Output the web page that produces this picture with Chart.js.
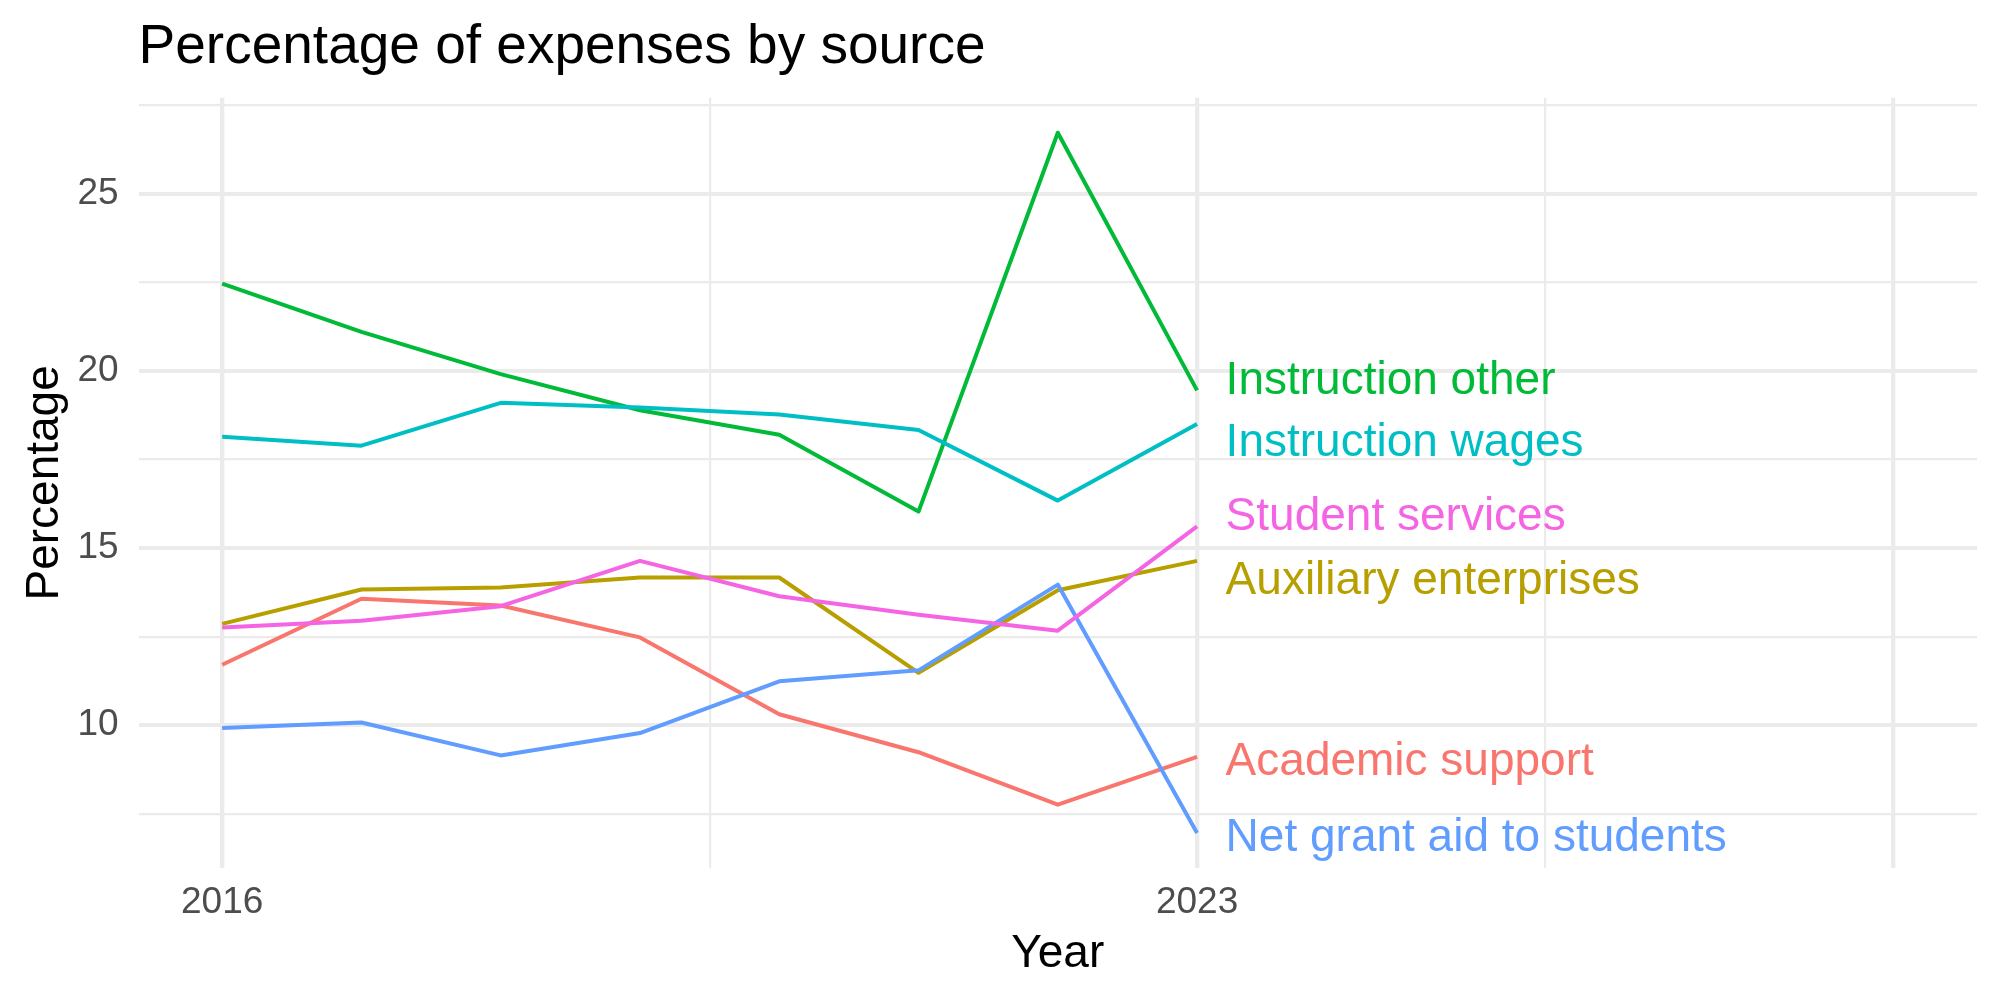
<!DOCTYPE html>
<html><head><meta charset="utf-8">
<script src="https://cdn.jsdelivr.net/npm/chart.js@4.4.1/dist/chart.umd.min.js"></script>
<style>html,body{margin:0;padding:0;background:#fff;} #wrap{width:2000px;height:1000px;}</style>
</head><body><div id="wrap"><canvas id="c" width="2000" height="1000"></canvas></div>
<script>
// ---- data ----
const years = [2016, 2017, 2018, 2019, 2020, 2021, 2022, 2023];
const seriesNames = ["Academic support", "Auxiliary enterprises", "Instruction other", "Instruction wages", "Net grant aid to students", "Student services"];
const academicSupport = [11.71, 13.57, 13.38, 12.48, 10.31, 9.24, 7.76, 9.11];
const auxiliaryEnterprises = [12.86, 13.83, 13.89, 14.17, 14.17, 11.48, 13.81, 14.64];
const instructionOther = [22.46, 21.10, 19.91, 18.89, 18.20, 16.03, 26.72, 19.45];
const instructionWages = [18.14, 17.89, 19.10, 18.97, 18.77, 18.33, 16.34, 18.50];
const netGrantAid = [9.92, 10.08, 9.15, 9.78, 11.24, 11.55, 13.97, 6.96];
const studentServices = [12.76, 12.95, 13.36, 14.64, 13.64, 13.12, 12.67, 15.61];
const seriesColors = ["#F8766D", "#B79F00", "#00BA38", "#00BFC4", "#619CFF", "#F564E3"];
// end-of-line label anchors (data units)
const labelX = 2023.205;
const labelY = [8.60, 13.71, 19.35, 17.59, 6.46, 15.51];
// axes
const xTickValues = [2016, 2019.5, 2023, 2025.5, 2028];
const xMajorTicks = [2016, 2023, 2028];
const xTickLabels = {2016: "2016", 2023: "2023"};
const yTickValues = [7.5, 10, 12.5, 15, 17.5, 20, 22.5, 25, 27.5];
const yMajorTicks = [10, 15, 20, 25];
const yTickLabels = {10: "10", 15: "15", 20: "20", 25: "25"};
const titleText = "Percentage of expenses by source";
const xTitle = "Year";
const yTitle = "Percentage";

const allSeries = [academicSupport, auxiliaryEnterprises, instructionOther, instructionWages, netGrantAid, studentServices];
const FONT = "'Liberation Sans', Arial, Helvetica, sans-serif";

const textPlugin = {
  id: 'textPlugin',
  afterDraw(chart) {
    const ctx = chart.ctx;
    const xs = chart.scales.x, ys = chart.scales.y, ca = chart.chartArea;
    ctx.save();
    // end labels
    ctx.font = "46px " + FONT;
    ctx.textAlign = 'left';
    ctx.textBaseline = 'alphabetic';
    seriesNames.forEach((n, i) => {
      ctx.fillStyle = seriesColors[i];
      ctx.fillText(n, xs.getPixelForValue(labelX), ys.getPixelForValue(labelY[i]));
    });
    // title
    ctx.fillStyle = '#000';
    ctx.font = "55px " + FONT;
    ctx.fillText(titleText, ca.left, 62.5);
    // x title
    ctx.font = "46px " + FONT;
    ctx.textAlign = 'center';
    ctx.fillText(xTitle, (ca.left + ca.right) / 2, 966.7);
    // y title
    ctx.translate(58, (ca.top + ca.bottom) / 2);
    ctx.rotate(-Math.PI / 2);
    ctx.fillText(yTitle, 0, 0);
    ctx.restore();
  }
};

new Chart(document.getElementById('c'), {
  type: 'line',
  data: {
    datasets: allSeries.map((s, i) => ({
      label: seriesNames[i],
      data: years.map((y, j) => ({x: y, y: s[j]})),
      borderColor: seriesColors[i],
      backgroundColor: seriesColors[i],
      borderWidth: 4,
      pointRadius: 0,
      tension: 0,
      fill: false,
      borderJoinStyle: 'round',
      borderCapStyle: 'butt',
      order: allSeries.length - 1 - i
    }))
  },
  options: {
    responsive: false,
    animation: false,
    devicePixelRatio: 1,
    layout: {padding: {left: 0, right: 23, top: 97.7, bottom: 0}},
    plugins: {legend: {display: false}, tooltip: {enabled: false}, title: {display: false}},
    scales: {
      x: {
        type: 'linear', min: 2015.4, max: 2028.6,
        afterBuildTicks: s => { s.ticks = xTickValues.map(v => ({value: v})); },
        afterFit: s => { s.height = 132; },
        border: {display: false},
        grid: {
          color: '#EBEBEB', drawTicks: false,
          lineWidth: c => (c.tick && xMajorTicks.includes(c.tick.value)) ? 4.3 : 2.2
        },
        ticks: {
          callback: v => xTickLabels[v] ?? '',
          color: '#4D4D4D', font: {family: FONT, size: 37}, padding: 13,
          maxRotation: 0, autoSkip: false
        }
      },
      y: {
        type: 'linear', min: 5.973, max: 27.709,
        afterBuildTicks: s => { s.ticks = yTickValues.map(v => ({value: v})); },
        afterFit: s => { s.width = 138.6; },
        border: {display: false},
        grid: {
          color: '#EBEBEB', drawTicks: false,
          lineWidth: c => (c.tick && yMajorTicks.includes(c.tick.value)) ? 4 : 2.2
        },
        ticks: {
          callback: v => yTickLabels[v] ?? '',
          color: '#4D4D4D', font: {family: FONT, size: 37}, padding: 20,
          autoSkip: false
        }
      }
    }
  },
  plugins: [textPlugin]
});
</script></body></html>
